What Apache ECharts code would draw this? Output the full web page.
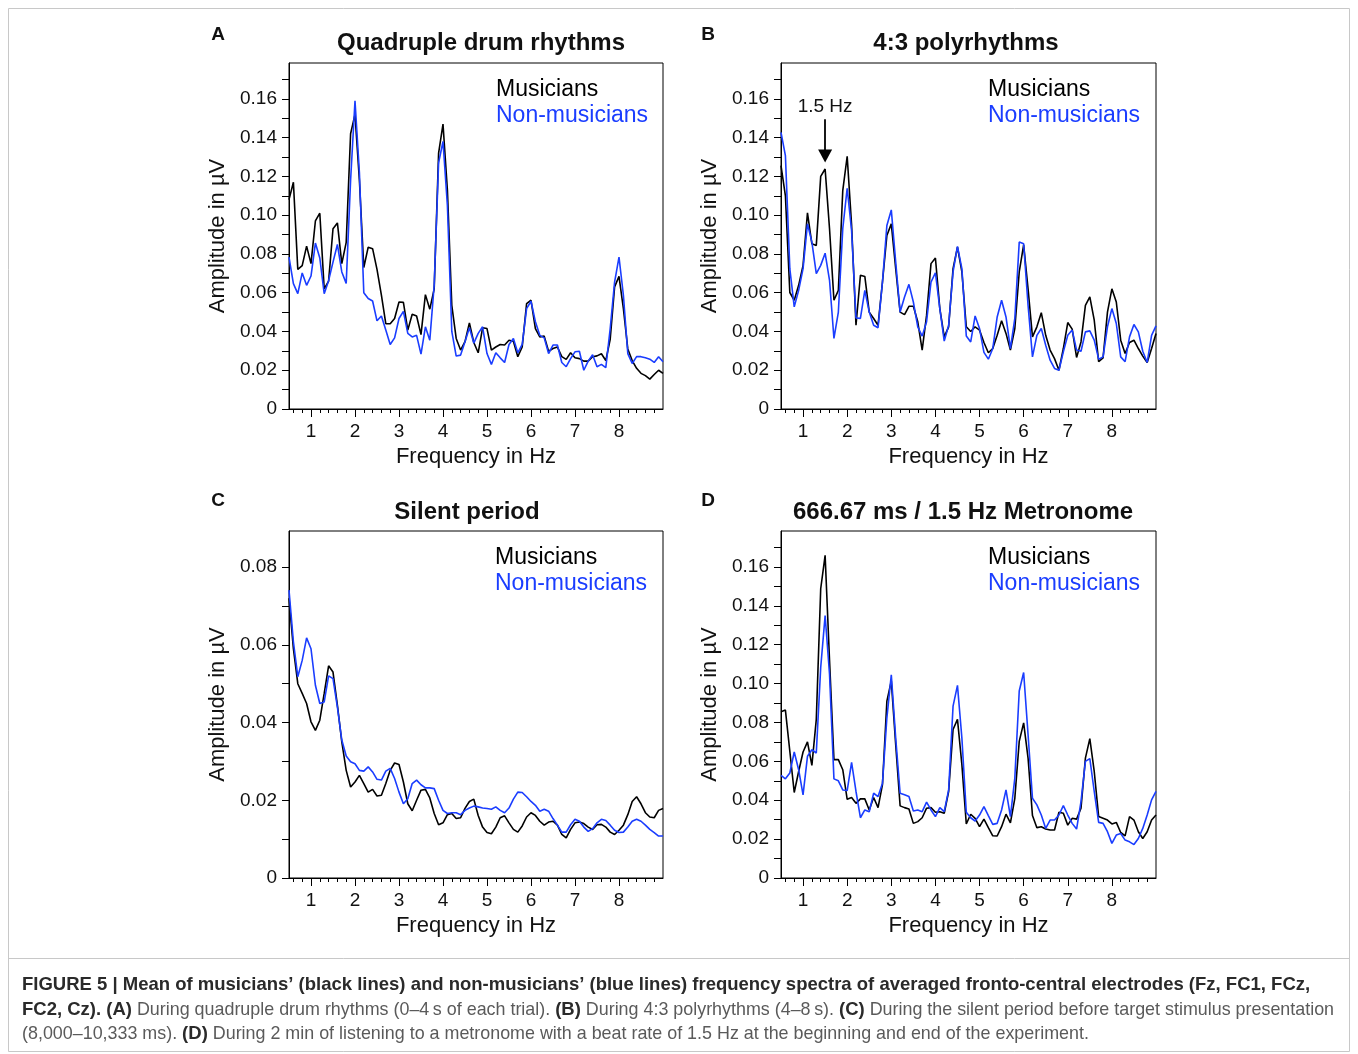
<!DOCTYPE html>
<html>
<head>
<meta charset="utf-8">
<script src="https://cdn.jsdelivr.net/npm/echarts@6/dist/echarts.min.js"></script>
<style>
html,body{margin:0;padding:0;background:#fff;}
#chart{width:1358px;height:1054px;}
</style>
</head>
<body>
<div id="chart"></div>
<script>
// ---------- data ----------
const FREQ = [0.5,0.6,0.7,0.8,0.9,1.0,1.1,1.2,1.3,1.4,1.5,1.6,1.7,1.8,1.9,2.0,2.1,2.2,2.3,2.4,2.5,2.6,2.7,2.8,2.9,3.0,3.1,3.2,3.3,3.4,3.5,3.6,3.7,3.8,3.9,4.0,4.1,4.2,4.3,4.4,4.5,4.6,4.7,4.8,4.9,5.0,5.1,5.2,5.3,5.4,5.5,5.6,5.7,5.8,5.9,6.0,6.1,6.2,6.3,6.4,6.5,6.6,6.7,6.8,6.9,7.0,7.1,7.2,7.3,7.4,7.5,7.6,7.7,7.8,7.9,8.0,8.1,8.2,8.3,8.4,8.5,8.6,8.7,8.8,8.9,9.0];

// Panel A: Quadruple drum rhythms
const A_MUS = [0.108,0.117,0.072,0.074,0.084,0.075,0.097,0.101,0.062,0.066,0.093,0.096,0.075,0.086,0.142,0.152,0.118,0.073,0.0835,0.0827,0.072,0.0587,0.044,0.044,0.0467,0.0552,0.055,0.0407,0.0489,0.048,0.0384,0.059,0.0515,0.062,0.132,0.147,0.113,0.0535,0.0364,0.0304,0.0347,0.0444,0.0343,0.029,0.0419,0.0415,0.0304,0.032,0.0333,0.033,0.0355,0.035,0.027,0.032,0.0544,0.0561,0.0415,0.0372,0.0376,0.0298,0.0312,0.032,0.027,0.0256,0.029,0.0264,0.026,0.0247,0.0247,0.027,0.0274,0.0285,0.025,0.036,0.063,0.0684,0.0518,0.031,0.025,0.021,0.0184,0.0172,0.0154,0.0178,0.020,0.0184];
const A_NON = [0.0784,0.0647,0.0595,0.0702,0.0638,0.0686,0.0856,0.0779,0.0595,0.0662,0.0758,0.0849,0.0707,0.0648,0.118,0.159,0.122,0.060,0.057,0.0557,0.0455,0.048,0.0407,0.0333,0.0367,0.0467,0.0504,0.039,0.0372,0.038,0.0283,0.0424,0.0355,0.064,0.127,0.138,0.105,0.040,0.0273,0.0278,0.0347,0.0419,0.034,0.039,0.0424,0.0286,0.023,0.029,0.0264,0.024,0.0333,0.0364,0.029,0.0333,0.0518,0.0556,0.045,0.038,0.0367,0.0286,0.033,0.033,0.024,0.0218,0.026,0.0295,0.0298,0.020,0.0247,0.028,0.0218,0.023,0.0213,0.0415,0.0655,0.0784,0.0587,0.0286,0.0235,0.027,0.027,0.0264,0.0257,0.024,0.027,0.0244];

// Panel B: 4:3 polyrhythms
const B_MUS = [0.1256,0.110,0.0601,0.0561,0.0638,0.0741,0.1012,0.0852,0.0844,0.120,0.1238,0.093,0.0561,0.0612,0.1127,0.1304,0.095,0.0432,0.069,0.0684,0.050,0.0467,0.0432,0.0655,0.0895,0.0955,0.0724,0.050,0.0487,0.053,0.053,0.045,0.0304,0.0484,0.075,0.0779,0.0518,0.0372,0.0424,0.0724,0.0835,0.0707,0.0424,0.040,0.0424,0.0407,0.0343,0.029,0.0312,0.038,0.0455,0.039,0.0304,0.0415,0.0707,0.0847,0.062,0.0372,0.0424,0.0497,0.038,0.0304,0.026,0.020,0.0312,0.0446,0.0412,0.0266,0.0346,0.0535,0.0578,0.0458,0.0244,0.0264,0.050,0.062,0.0552,0.0355,0.0286,0.0343,0.0355,0.0312,0.0273,0.024,0.0312,0.039];
const B_NON = [0.1427,0.1307,0.0724,0.0527,0.0612,0.0724,0.0955,0.0861,0.0698,0.0741,0.0804,0.0664,0.0364,0.050,0.093,0.1139,0.092,0.047,0.0467,0.0612,0.050,0.0432,0.0419,0.0655,0.0947,0.1027,0.0758,0.050,0.0578,0.0643,0.0552,0.0424,0.0376,0.045,0.0655,0.0703,0.0518,0.035,0.0432,0.0707,0.0839,0.0724,0.0377,0.0346,0.048,0.0415,0.0292,0.0257,0.0312,0.0475,0.0561,0.0475,0.0312,0.0467,0.0861,0.0852,0.0535,0.0269,0.038,0.0415,0.0329,0.0252,0.0209,0.020,0.0295,0.038,0.0407,0.0304,0.0298,0.0398,0.0403,0.0355,0.0257,0.0269,0.0424,0.0518,0.0441,0.0269,0.0244,0.0372,0.0436,0.0398,0.0298,0.024,0.038,0.0429];

// Panel C: Silent period
const C_MUS = [0.072,0.059,0.050,0.0475,0.0449,0.0402,0.038,0.0406,0.0475,0.0546,0.053,0.0445,0.035,0.0277,0.0234,0.0247,0.0264,0.0243,0.0221,0.0228,0.0211,0.0213,0.0243,0.0277,0.0296,0.0292,0.0247,0.0191,0.0173,0.020,0.0226,0.0228,0.0206,0.0166,0.0137,0.0142,0.0163,0.0166,0.0153,0.0155,0.0179,0.0197,0.0203,0.0161,0.0131,0.0117,0.0114,0.0131,0.0155,0.016,0.0142,0.0125,0.0118,0.0134,0.0157,0.0168,0.0161,0.0146,0.0136,0.0144,0.0146,0.0136,0.0112,0.0103,0.0125,0.0142,0.0144,0.014,0.0131,0.0125,0.0137,0.0138,0.0131,0.0118,0.0112,0.0123,0.0136,0.0163,0.0197,0.0209,0.0191,0.0168,0.0157,0.0155,0.0174,0.0179];
const C_NON = [0.0741,0.0608,0.0518,0.056,0.0618,0.059,0.0496,0.0449,0.0453,0.052,0.0513,0.044,0.0355,0.0314,0.0299,0.0294,0.0277,0.0275,0.0286,0.0273,0.0254,0.0252,0.0275,0.0282,0.0256,0.0221,0.0191,0.0204,0.0243,0.0252,0.024,0.0232,0.0232,0.023,0.020,0.0174,0.0166,0.0168,0.0168,0.0163,0.0174,0.018,0.0185,0.0183,0.018,0.0179,0.0177,0.0183,0.0174,0.0168,0.018,0.0203,0.0221,0.022,0.0209,0.0197,0.0187,0.0172,0.0177,0.0172,0.0153,0.0136,0.0118,0.0118,0.0137,0.0151,0.0146,0.0131,0.012,0.0127,0.0142,0.0151,0.0148,0.0136,0.0123,0.0117,0.0118,0.0131,0.0146,0.0151,0.0146,0.0136,0.0125,0.0117,0.0108,0.0108];

// Panel D: 666.67 ms / 1.5 Hz Metronome
const D_MUS = [0.0855,0.0864,0.0652,0.044,0.0548,0.0648,0.070,0.0579,0.0816,0.1488,0.166,0.112,0.0609,0.0609,0.0557,0.0405,0.0414,0.0384,0.0407,0.0407,0.035,0.0414,0.0362,0.048,0.091,0.1014,0.0686,0.0371,0.0362,0.0355,0.0281,0.029,0.031,0.0359,0.0362,0.0338,0.0341,0.0333,0.0445,0.0764,0.0816,0.0583,0.0278,0.0328,0.0307,0.0264,0.0303,0.0259,0.0217,0.0216,0.0264,0.0328,0.0284,0.041,0.0703,0.0798,0.0617,0.0321,0.0259,0.0264,0.0252,0.0247,0.0247,0.0338,0.0333,0.0272,0.0307,0.0303,0.0359,0.0617,0.0717,0.0548,0.0316,0.0307,0.0298,0.0278,0.0286,0.0234,0.0217,0.0316,0.0298,0.0238,0.0203,0.0238,0.0298,0.0324];
const D_NON = [0.0528,0.051,0.054,0.0648,0.0557,0.0428,0.0626,0.066,0.0643,0.1083,0.135,0.1048,0.051,0.050,0.0453,0.045,0.0595,0.0445,0.031,0.035,0.0341,0.0436,0.0419,0.0488,0.0824,0.1045,0.072,0.0436,0.0428,0.0419,0.0345,0.035,0.0341,0.039,0.035,0.0316,0.0362,0.0341,0.0453,0.0884,0.0991,0.072,0.0338,0.031,0.0293,0.0324,0.0367,0.0321,0.0276,0.0281,0.035,0.0453,0.0316,0.0514,0.0962,0.1057,0.0738,0.041,0.0376,0.0324,0.0255,0.0298,0.0298,0.0324,0.0372,0.0324,0.0281,0.0252,0.0393,0.060,0.0614,0.0445,0.0286,0.0281,0.0238,0.0178,0.0221,0.0229,0.0195,0.0186,0.0172,0.0203,0.0255,0.0324,0.0402,0.0445];

// tick labels
const X_LABELS = [1,2,3,4,5,6,7,8];
const Y_LABELS_BIG = [0,0.02,0.04,0.06,0.08,0.10,0.12,0.14,0.16];
const Y_LABELS_C = [0,0.02,0.04,0.06,0.08];
const PANEL_TITLES = ['Quadruple drum rhythms','4:3 polyrhythms','Silent period','666.67 ms / 1.5 Hz Metronome'];
const PANEL_LETTERS = ['A','B','C','D'];
const SERIES_NAMES = ['Musicians','Non-musicians'];

// ---------- helpers ----------
function steps(from, to, step){ const out=[]; for(let k=Math.round(from/step);k<=Math.round(to/step);k++){ out.push(+(k*step).toFixed(4)); } return out; }
const X_MINOR = steps(0.6, 8.8, 0.2).filter(v => Math.abs(v - Math.round(v)) > 1e-6);
const Y_TICKS_BIG = steps(0, 0.17, 0.01);
const Y_TICKS_C = steps(0, 0.08, 0.01);
const pairs = arr => arr.map((v,i) => [FREQ[i], v]);

const BLUE = '#1a3dff';
const FONT = "'Liberation Sans', Arial, Helvetica, sans-serif";

const panels = [
  {left:289, top:63, width:374, height:346, ymax:0.1785, yticks:Y_TICKS_BIG, ylabels:Y_LABELS_BIG, mus:A_MUS, non:A_NON, tx:481, ty:43, lx:218, ly:35, gx:496, gy:90},
  {left:781, top:63, width:375, height:346, ymax:0.1785, yticks:Y_TICKS_BIG, ylabels:Y_LABELS_BIG, mus:B_MUS, non:B_NON, tx:966, ty:43, lx:708, ly:35, gx:988, gy:90},
  {left:289, top:531, width:374, height:347, ymax:0.0893, yticks:Y_TICKS_C, ylabels:Y_LABELS_C, mus:C_MUS, non:C_NON, tx:467, ty:512, lx:218, ly:501, gx:495, gy:558},
  {left:781, top:531, width:375, height:347, ymax:0.1785, yticks:Y_TICKS_BIG, ylabels:Y_LABELS_BIG, mus:D_MUS, non:D_NON, tx:963, ty:512, lx:708, ly:501, gx:988, gy:558}
];

const grid=[], xAxis=[], yAxis=[], series=[], graphic=[];
const fmtY = v => (Math.abs(v) < 1e-9 ? '0' : v.toFixed(2));

panels.forEach((p, g) => {
  grid.push({left:p.left, top:p.top, width:p.width, height:p.height, show:true, borderColor:'#000', borderWidth:1, backgroundColor:'#fff', containLabel:false});
  xAxis.push({
    type:'value', gridIndex:g, min:0.5, max:9.0,
    name:'Frequency in Hz', nameLocation:'middle', nameGap:37,
    nameTextStyle:{fontSize:22, color:'#111', fontFamily:FONT},
    axisLine:{show:true, onZero:false, lineStyle:{color:'#000', width:1}},
    axisTick:{show:true, inside:false, length:8, lineStyle:{color:'#000'}, customValues:X_LABELS},
    axisLabel:{show:true, margin:13, fontSize:19, color:'#111', fontFamily:FONT, customValues:X_LABELS, formatter: v => String(Math.round(v))},
    splitLine:{show:false}
  });
  xAxis.push({
    type:'value', gridIndex:g, min:0.5, max:9.0, position:'bottom',
    axisLine:{show:false, onZero:false},
    axisTick:{show:true, inside:false, length:4, lineStyle:{color:'#000'}, customValues:X_MINOR},
    axisLabel:{show:false}, splitLine:{show:false}
  });
  yAxis.push({
    type:'value', gridIndex:g, min:0, max:p.ymax,
    name:'Amplitude in µV', nameLocation:'middle', nameGap:60, nameRotate:90,
    nameTextStyle:{fontSize:22, color:'#111', fontFamily:FONT},
    axisLine:{show:true, onZero:false, lineStyle:{color:'#000', width:1}},
    axisTick:{show:true, inside:false, length:7, lineStyle:{color:'#000'}, customValues:p.yticks},
    axisLabel:{show:true, margin:12, fontSize:19, color:'#111', fontFamily:FONT, customValues:p.ylabels, formatter:fmtY},
    splitLine:{show:false}
  });
  const musSeries = {
    name:SERIES_NAMES[0], type:'line', xAxisIndex:g*2, yAxisIndex:g, data:pairs(p.mus),
    symbol:'none', smooth:false, lineStyle:{color:'#000', width:1.6}, itemStyle:{color:'#000'}, animation:false, z:2
  };
  if (g === 1) {
    musSeries.markLine = {
      silent:true, animation:false,
      symbol:['none','triangle'], symbolSize:[14,13],
      lineStyle:{color:'#000', width:1.8, type:'solid'},
      label:{show:true, position:'start', formatter:'1.5 Hz', fontSize:19, color:'#111', fontFamily:FONT, distance:3},
      data:[[{coord:[1.5, 0.1495]}, {coord:[1.5, 0.1305]}]]
    };
  }
  series.push(musSeries);
  series.push({
    name:SERIES_NAMES[1], type:'line', xAxisIndex:g*2, yAxisIndex:g, data:pairs(p.non),
    symbol:'none', smooth:false, lineStyle:{color:BLUE, width:1.6}, itemStyle:{color:BLUE}, animation:false, z:3
  });
  graphic.push({type:'text', x:p.tx, y:p.ty, style:{text:PANEL_TITLES[g], font:'bold 24px '+FONT, fill:'#111', textAlign:'center', textVerticalAlign:'middle'}});
  graphic.push({type:'text', x:p.lx, y:p.ly, style:{text:PANEL_LETTERS[g], font:'bold 19px '+FONT, fill:'#111', textAlign:'center', textVerticalAlign:'middle'}});
  graphic.push({type:'text', x:p.gx, y:p.gy, style:{text:SERIES_NAMES[0], font:'23px '+FONT, fill:'#000', textAlign:'left', textVerticalAlign:'middle'}});
  graphic.push({type:'text', x:p.gx, y:p.gy + 26, style:{text:SERIES_NAMES[1], font:'23px '+FONT, fill:BLUE, textAlign:'left', textVerticalAlign:'middle'}});
});

graphic.push({type:'rect', shape:{x:8.5, y:8.5, width:1341, height:1043}, style:{fill:'none', stroke:'#c8c8c8', lineWidth:1}, z:-10});
graphic.push({type:'line', shape:{x1:8.5, y1:958.5, x2:1349.5, y2:958.5}, style:{stroke:'#c8c8c8', lineWidth:1}, z:-10});

const CAP_FONT = "'Liberation Sans', Arial, sans-serif";
graphic.push({
  type:'text', x:22, y:973,
  style:{
    text:'{b|FIGURE 5 | Mean of musicians\u2019 (black lines) and non-musicians\u2019 (blue lines) frequency spectra of averaged fronto-central electrodes (Fz, FC1, FCz,}\n' +
         '{b|FC2, Cz). (A)}{n| During quadruple drum rhythms (0\u20134\u2009s of each trial). }{b|(B)}{n| During 4:3 polyrhythms (4\u20138\u2009s). }{b|(C)}{n| During the silent period before target stimulus presentation}\n' +
         '{n|(8,000\u201310,333 ms). }{b|(D)}{n| During 2 min of listening to a metronome with a beat rate of 1.5 Hz at the beginning and end of the experiment.}',
    rich:{
      b:{font:'bold 18.5px '+CAP_FONT, fill:'#2a2a2a', lineHeight:24.5},
      n:{font:'17.9px '+CAP_FONT, fill:'#5a5a5a', lineHeight:24.5}
    }
  }
});

const chart = echarts.init(document.getElementById('chart'), null, {renderer:'canvas'});
chart.setOption({
  animation:false,
  backgroundColor:'#fff',
  grid, xAxis, yAxis, series, graphic
});
</script>
</body>
</html>
